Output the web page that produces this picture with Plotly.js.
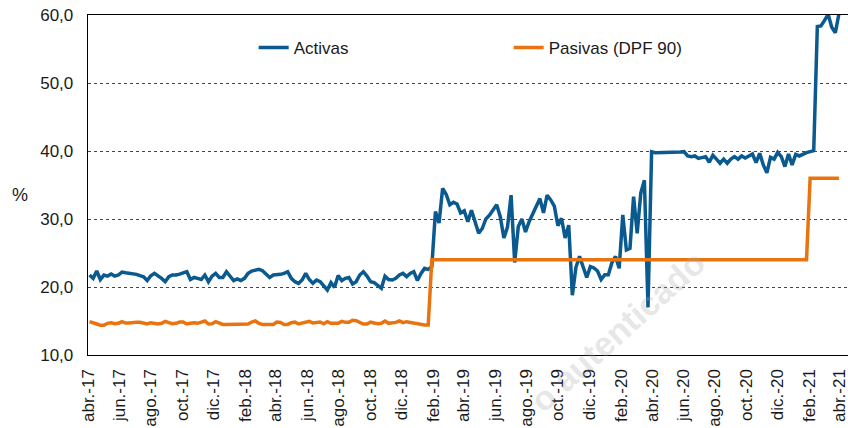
<!DOCTYPE html>
<html>
<head>
<meta charset="utf-8">
<script src="https://cdn.plot.ly/plotly-3.0.1.min.js"></script>
<style>
    html, body { margin: 0; padding: 0; background: #fff; }
    #chart { width: 848px; height: 428px; }
</style>
</head>
<body>
<div id="chart"></div>
<script>
// weekly series, first week 2017-04-04
const firstWeek = '2017-04-04';

const activas = [
    21.76, 21.27, 22.35, 21.1, 21.76, 21.6, 21.9, 21.6, 21.76, 22.2,
    22.1, 22.0, 22.0, 21.86, 21.66, 21.5, 20.95, 21.66, 22.0, 21.7,
    21.27, 20.78, 21.52, 21.76, 21.76, 21.9, 22.1, 22.25, 21.1, 21.4,
    21.27, 21.1, 21.76, 20.78, 21.6, 22.0, 21.4, 21.4, 22.25, 21.52,
    20.95, 21.2, 20.95, 21.27, 22.0, 22.35, 22.5, 22.6, 22.4, 21.9,
    21.4, 21.76, 21.76, 21.86, 22.0, 22.25, 21.27, 20.78, 20.54, 21.03,
    22.0, 21.1, 20.54, 21.03, 20.78, 20.15, 19.56, 20.64, 19.95, 21.7,
    20.95, 21.27, 21.4, 20.44, 20.78, 21.76, 22.25, 21.6, 20.78, 20.64,
    20.29, 19.8, 21.6, 21.1, 21.03, 21.27, 21.76, 22.0, 21.52, 22.0,
    22.25, 20.95, 22.0, 22.74, 22.6, 23.0, 31.1, 29.4, 34.5, 33.6,
    32.1, 32.45, 32.2, 30.9, 31.2, 29.6, 31.3, 29.6, 27.9, 28.6,
    30.0, 30.55, 31.3, 32.1, 30.35, 27.2, 28.8, 33.5, 23.6, 28.9,
    30.0, 28.1, 29.6, 30.8, 31.7, 33.0, 30.9, 33.5, 32.8, 31.9,
    29.0, 30.1, 27.2, 29.1, 18.8, 22.9, 24.5, 23.0, 21.4, 23.0,
    22.8, 22.35, 21.1, 21.8, 21.8, 23.6, 24.5, 22.75, 30.6, 25.45,
    25.7, 33.3, 27.9, 33.8, 35.7, 17.0, 39.9, 39.76, 39.76, 39.76,
    39.8, 39.8, 39.8, 39.86, 39.86, 39.9, 39.27, 39.17, 39.27, 38.9,
    39.07, 39.17, 38.34, 39.37, 38.8, 38.2, 38.8, 38.2, 38.8, 39.17,
    38.8, 39.27, 38.98, 39.27, 39.56, 38.3, 39.66, 37.95, 36.8, 39.07,
    38.8, 39.8, 39.17, 37.7, 39.56, 37.95, 39.5, 39.27, 39.56, 39.76,
    39.9, 40.05, 58.3, 58.4, 59.2, 60.1, 58.2, 57.4, 60.2
];

const pasivas = [
    14.9, 14.66, 14.56, 14.36, 14.36, 14.66, 14.75, 14.6, 14.66, 14.9,
    14.7, 14.7, 14.8, 14.8, 14.8, 14.66, 14.56, 14.75, 14.6, 14.56,
    14.66, 14.95, 14.75, 14.6, 14.66, 14.85, 14.85, 14.56, 14.66, 14.75,
    14.66, 14.85, 15.0, 14.56, 14.6, 14.9, 14.66, 14.5, 14.5, 14.5,
    14.5, 14.5, 14.5, 14.5, 14.56, 14.85, 15.0, 14.66, 14.5, 14.5,
    14.5, 14.5, 14.85, 14.8, 14.5, 14.5, 14.75, 14.85, 14.56, 14.66,
    14.75, 14.95, 14.7, 14.8, 14.85, 14.6, 14.9, 14.66, 14.6, 14.66,
    14.95, 14.8, 14.8, 15.1, 15.05, 14.75, 14.56, 14.56, 14.85, 14.7,
    14.6, 14.66, 15.0, 14.66, 14.7, 14.8, 15.0, 14.75, 14.9, 14.8,
    14.75, 14.56, 14.45, 14.4, 14.4,
    24.0, 24.0, 24.0, 24.0, 24.0, 24.0, 24.0, 24.0, 24.0, 24.0, 24.0, 24.0, 24.0, 24.0, 24.0,
    24.0, 24.0, 24.0, 24.0, 24.0, 24.0, 24.0, 24.0, 24.0, 24.0, 24.0, 24.0, 24.0, 24.0, 24.0,
    24.0, 24.0, 24.0, 24.0, 24.0, 24.0, 24.0, 24.0, 24.0, 24.0, 24.0, 24.0, 24.0, 24.0, 24.0,
    24.0, 24.0, 24.0, 24.0, 24.0, 24.0, 24.0, 24.0, 24.0, 24.0, 24.0, 24.0, 24.0, 24.0, 24.0,
    24.0, 24.0, 24.0, 24.0, 24.0, 24.0, 24.0, 24.0, 24.0, 24.0, 24.0, 24.0, 24.0, 24.0, 24.0,
    24.0, 24.0, 24.0, 24.0, 24.0, 24.0, 24.0, 24.0, 24.0, 24.0, 24.0, 24.0, 24.0, 24.0, 24.0,
    24.0, 24.0, 24.0, 24.0, 24.0, 24.0, 24.0, 24.0, 24.0, 24.0, 24.0, 24.0, 24.0, 24.0, 24.0,
    36.0, 36.0, 36.0, 36.0, 36.0, 36.0, 36.0, 36.0, 36.0
];

const tickDates = [
    '2017-04-01', '2017-06-01', '2017-08-01', '2017-10-01', '2017-12-01',
    '2018-02-01', '2018-04-01', '2018-06-01', '2018-08-01', '2018-10-01', '2018-12-01',
    '2019-02-01', '2019-04-01', '2019-06-01', '2019-08-01', '2019-10-01', '2019-12-01',
    '2020-02-01', '2020-04-01', '2020-06-01', '2020-08-01', '2020-10-01', '2020-12-01',
    '2021-02-01', '2021-04-01'
];
const tickLabels = [
    'abr.-17', 'jun.-17', 'ago.-17', 'oct.-17', 'dic.-17',
    'feb.-18', 'abr.-18', 'jun.-18', 'ago.-18', 'oct.-18', 'dic.-18',
    'feb.-19', 'abr.-19', 'jun.-19', 'ago.-19', 'oct.-19', 'dic.-19',
    'feb.-20', 'abr.-20', 'jun.-20', 'ago.-20', 'oct.-20', 'dic.-20',
    'feb.-21', 'abr.-21'
];

const FONT = 'Liberation Sans, Arial, sans-serif';

function weekDates(start, count) {
    const t0 = Date.parse(start + 'T00:00:00Z');
    const out = [];
    for (let i = 0; i < count; i++) {
        out.push(new Date(t0 + i * 7 * 86400000).toISOString().slice(0, 10));
    }
    return out;
}

function buildLine(name, values, color) {
    return {
        x: weekDates(firstWeek, values.length),
        y: values,
        name,
        type: 'scatter',
        mode: 'lines',
        line: { color, width: 3.5 },
        hoverinfo: 'skip'
    };
}

const traces = [
    buildLine('Activas', activas, '#0A5A8F'),
    buildLine('Pasivas (DPF 90)', pasivas, '#E9740F')
];

const layout = {
    width: 848,
    height: 428,
    margin: { l: 88, r: 0, t: 15, b: 73 },
    paper_bgcolor: '#fff',
    plot_bgcolor: '#fff',
    separators: ',.',
    font: { family: FONT, size: 17, color: '#1a1a1a' },
    showlegend: true,
    legend: {
        orientation: 'h',
        x: 0.218,
        xanchor: 'left',
        y: 0.903,
        yanchor: 'middle',
        bgcolor: 'rgba(0,0,0,0)',
        entrywidth: 210,
        entrywidthmode: 'pixels',
        font: { family: FONT, size: 17, color: '#1a1a1a' }
    },
    xaxis: {
        type: 'date',
        range: ['2017-04-01', '2021-04-16 14:00'],
        tickmode: 'array',
        tickvals: tickDates,
        ticktext: tickLabels,
        tickangle: -90,
        ticks: '',
        ticklabelstandoff: 6,
        ticklabeloverflow: 'allow',
        showgrid: false,
        zeroline: false,
        showline: true,
        mirror: true,
        linecolor: '#000',
        linewidth: 1.3,
        fixedrange: true
    },
    yaxis: {
        range: [10, 60],
        dtick: 10,
        tick0: 10,
        tickformat: '.1f',
        ticks: '',
        ticklabelstandoff: 10,
        showgrid: true,
        gridcolor: '#444',
        gridwidth: 1,
        griddash: '3px,3px',
        zeroline: false,
        showline: true,
        linecolor: '#000',
        linewidth: 1.3,
        fixedrange: true
    },
    annotations: [
        {
            text: '%',
            xref: 'paper', yref: 'paper',
            x: -0.09, y: 0.47,
            xanchor: 'center', yanchor: 'middle',
            showarrow: false,
            font: { family: FONT, size: 18, color: '#1a1a1a' }
        },
        {
            // faint watermark over the plot
            text: '<b>o autenticado</b>',
            xref: 'paper', yref: 'paper',
            x: 0.697, y: 0.0706,
            xanchor: 'center', yanchor: 'middle',
            textangle: -42,
            showarrow: false,
            font: { family: FONT, size: 34, color: 'rgba(170,170,170,0.3)' }
        }
    ]
};

Plotly.newPlot('chart', traces, layout, {
    displayModeBar: false,
    staticPlot: true
});
</script>
</body>
</html>
